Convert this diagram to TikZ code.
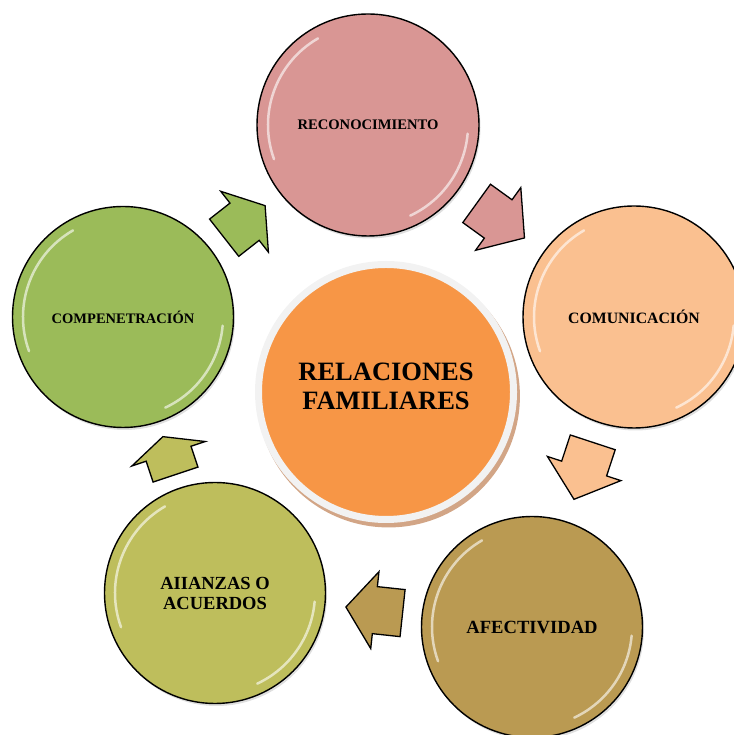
\documentclass[tikz,border=0pt]{standalone}
\usepackage{fontspec}
\setmainfont{Liberation Serif}
\usetikzlibrary{shapes.arrows, shadows}

\definecolor{rosa}{HTML}{D99694}
\definecolor{durazno}{HTML}{FAC090}
\definecolor{dorado}{HTML}{BA9A52}
\definecolor{oliva}{HTML}{BEBE5C}
\definecolor{verde}{HTML}{9BBB59}
\definecolor{naranja}{HTML}{F79646}
\definecolor{anillo}{HTML}{F2F2F2}
\definecolor{sombra}{HTML}{D2A586}

\begin{document}
\begin{tikzpicture}[
        x=1pt, y=1pt,
        font=\bfseries,
        circulo/.style={circle, draw=black, line width=1.4pt, fill=#1, minimum size=221pt,
            inner sep=0pt, align=center,
            drop shadow={shadow xshift=1.5pt, shadow yshift=-2.5pt, opacity=.25}},
        flecha/.style={single arrow, draw=black, line width=1.3pt, fill=#1,
            inner xsep=0pt, inner ysep=23pt, single arrow head extend=15pt, outer sep=0pt,
            sloped, allow upside down},
        brillo/.style={white, line width=2.5pt, opacity=.6, line cap=round}
    ]
        \useasboundingbox (0,0) rectangle (733,735);

        % --- Circulo central ---
        \node[circle, fill=naranja, draw=anillo, line width=7pt, minimum size=255pt, inner sep=0pt,
            drop shadow={shadow xshift=2.5pt, shadow yshift=-4pt, shadow scale=1.03, fill=sombra, opacity=1},
            label={[align=center, yshift=6pt, font=\bfseries\fontsize{26.5}{29}\selectfont]center:RELACIONES\\FAMILIARES}]
            (centro) at (386,343) {};

        % --- Circulos del ciclo ---
        \node[circulo=rosa, minimum size=222pt, font=\bfseries\fontsize{14.6}{17}\selectfont]
            (recon) at (368,610) {RECONOCIMIENTO};
        \node[circulo=durazno, minimum size=222pt, font=\bfseries\fontsize{15.8}{18}\selectfont]
            (comun) at (634,418) {COMUNICACIÓN};
        \node[circulo=dorado, font=\bfseries\fontsize{18.6}{20}\selectfont]
            (afect) at (532,108) {AFECTIVIDAD};
        \node[circulo=oliva, font=\bfseries\fontsize{18.5}{20}\selectfont]
            (alian) at (215,142) {AIIANZAS O\\ACUERDOS};
        \node[circulo=verde, font=\bfseries\fontsize{14.5}{17}\selectfont]
            (compe) at (123,418) {COMPENETRACIÓN};

        % Brillo de los circulos
        \foreach \n in {recon, comun, afect, alian, compe}{
            \draw[brillo] ([shift={(120:100)}]\n.center) arc[start angle=120, end angle=200, radius=100];
            \draw[brillo] ([shift={(-65:100)}]\n.center) arc[start angle=-65, end angle=-5, radius=100];
        }

        % --- Flechas entre circulos ---
        \path (recon) -- (comun) node[flecha=rosa, pos=.40, minimum height=59pt, single arrow tip angle=100] (f1) {};
        \path (comun) -- (afect) node[flecha=durazno, pos=.39, minimum height=60pt, single arrow tip angle=100] (f2) {};
        \path (afect) -- (alian) node[flecha=dorado, pos=.40, minimum height=57pt, single arrow tip angle=106] (f3) {};
        \path (alian) -- (compe) node[flecha=oliva, pos=.41, minimum height=40pt, single arrow tip angle=130] (f4) {};
        \path (compe) -- (recon) node[flecha=verde, pos=.40, minimum height=52pt, single arrow tip angle=112] (f5) {};

    \end{tikzpicture}
\end{document}
